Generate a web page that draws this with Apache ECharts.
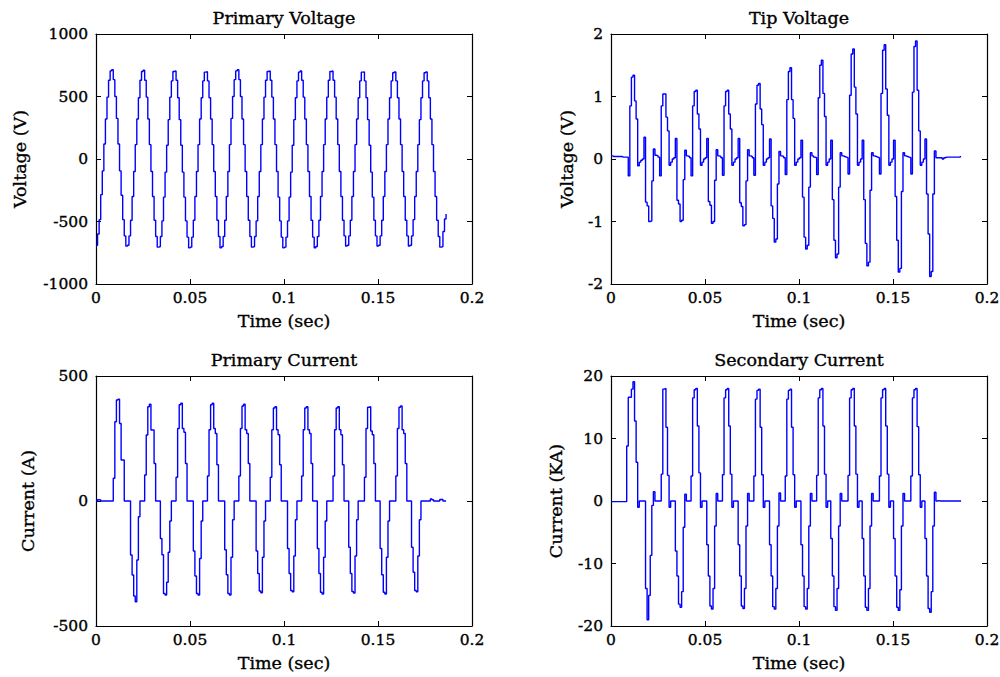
<!DOCTYPE html>
<html>
<head>
<meta charset="utf-8">
<title>Primary / Tip Voltage and Primary / Secondary Current</title>
<script src="https://cdn.jsdelivr.net/npm/echarts@6/dist/echarts.min.js"></script>
<style>
  html, body { margin: 0; padding: 0; background: #fff; }
  #chart { width: 1000px; height: 677px; }
</style>
</head>
<body>
<div id="chart"></div>
<script>
// Seconds between two recorded samples (sample-and-hold record)
const SAMPLE_DT = 0.000835;

// Tick values of each axis
const timeTicks = [0, 0.05, 0.1, 0.15, 0.2];
const primaryVoltageTicks = [-1000, -500, 0, 500, 1000];
const tipVoltageTicks = [-2, -1, 0, 1, 2];
const primaryCurrentTicks = [-500, 0, 500];
const secondaryCurrentTicks = [-20, -10, 0, 10, 20];

// Primary voltage (V), one row per mains cycle
const primaryVoltage = [
  -690, -600, -485, -285, -95, 120, 320, 495, 630, 705, 715, 635, 500, 325, 120, -95, -290, -485, -615, -697,
  -690, -615, -490, -300, -100, 115, 320, 490, 630, 700, 710, 630, 495, 320, 115, -100, -300, -490, -620, -705,
  -700, -620, -495, -305, -105, 110, 315, 495, 625, 700, 705, 630, 490, 315, 110, -105, -305, -495, -625, -711,
  -705, -625, -490, -300, -100, 115, 320, 490, 625, 695, 698, 625, 490, 320, 115, -100, -300, -490, -620, -711,
  -700, -620, -490, -300, -100, 115, 325, 500, 635, 705, 715, 635, 500, 320, 115, -100, -300, -490, -620, -705,
  -700, -620, -495, -300, -100, 115, 320, 495, 630, 700, 705, 630, 495, 320, 115, -100, -305, -495, -625, -711,
  -705, -625, -495, -305, -105, 110, 315, 490, 625, 695, 704, 630, 495, 320, 115, -100, -300, -490, -625, -711,
  -700, -620, -490, -300, -100, 115, 320, 495, 630, 700, 704, 630, 495, 320, 115, -100, -300, -490, -615, -697,
  -690, -615, -490, -300, -100, 115, 320, 490, 625, 695, 696, 625, 490, 315, 110, -105, -305, -490, -615, -697,
  -690, -615, -490, -300, -100, 115, 320, 490, 625, 690, 696, 625, 490, 320, 115, -100, -300, -490, -615, -697,
  -690, -615, -485, -300, -100, 115, 315, 490, 625, 690, 696, 625, 490, 320, 115, -100, -300, -490, -620, -705,
  -700, -580, -480, -440
];

// Tip voltage (V)
const tipVoltage = [
  0.05, 0.04, 0.04, 0.04, 0.04, 0.04, 0.04, 0.03, 0.03, 0.03, 0.03, -0.27, 0.85, 1.31, 1.34, 0.93, 0.64, -0.11, -0.05, -0.02,
  0.00, 0.35, -0.69, -0.75, -1.00, -0.99, -0.35, 0.16, 0.06, 0.05, 0.03, -0.27, 0.85, 1.04, 1.04, 0.67, 0.45, -0.10, -0.05, 0.00,
  0.02, 0.33, -0.66, -0.72, -1.00, -0.98, -0.33, 0.14, 0.05, 0.04, 0.02, -0.27, 0.85, 1.08, 1.10, 0.72, 0.48, -0.10, -0.05, 0.00,
  0.02, 0.33, -0.68, -0.74, -1.03, -1.00, -0.34, 0.15, 0.05, 0.04, 0.02, -0.26, 0.85, 1.08, 1.10, 0.72, 0.48, -0.10, -0.05, 0.00,
  0.02, 0.33, -0.70, -0.76, -1.07, -1.05, -0.35, 0.15, 0.05, 0.04, 0.02, -0.26, 0.88, 1.18, 1.21, 0.80, 0.55, -0.10, -0.05, 0.00,
  0.02, 0.32, -0.75, -0.95, -1.33, -1.28, -0.40, 0.12, 0.05, 0.04, 0.02, -0.25, 0.95, 1.40, 1.46, 0.95, 0.65, -0.10, -0.05, 0.00,
  0.02, 0.30, -0.61, -1.25, -1.44, -1.38, -0.45, 0.10, 0.05, 0.03, 0.02, -0.25, 0.98, 1.50, 1.58, 1.05, 0.68, -0.10, -0.05, 0.00,
  0.30, -0.65, -1.30, -1.58, -1.52, -0.45, 0.10, 0.05, 0.04, 0.03, 0.02, -0.24, 1.02, 1.68, 1.76, 1.15, 0.72, -0.10, -0.05, 0.00,
  0.30, -0.65, -1.35, -1.71, -1.65, -0.50, 0.10, 0.05, 0.04, 0.03, 0.02, -0.24, 1.05, 1.74, 1.83, 1.12, 0.70, -0.10, -0.05, 0.00,
  0.30, -0.60, -1.30, -1.81, -1.75, -0.52, 0.10, 0.05, 0.04, 0.03, 0.02, -0.24, 1.07, 1.80, 1.89, 1.10, 0.45, -0.10, -0.05, 0.00,
  0.32, -0.56, -1.20, -1.88, -1.80, -0.56, 0.13, 0.02, 0.02, 0.02, 0.02, 0.00, 0.02, 0.03, 0.03, 0.03, 0.03, 0.03, 0.03, 0.03,
  0.03, 0.03, 0.04, 0.03
];

// Primary current (A)
const primaryCurrent = [
  0, 5, 4, 0, 0, 0, 0, 0, 0, 0, 0, 91, 317, 404, 407, 310, 164, 164, 0, 0,
  0, 0, -216, -296, -380, -403, -236, -63, 0, 0, 0, 104, 264, 377, 387, 284, 284, 150, 0, 0,
  0, -150, -215, -370, -376, -325, -205, -80, 0, 0, 0, 95, 290, 385, 391, 290, 275, 150, 0, 0,
  0, 0, -200, -300, -370, -376, -230, -80, 0, 0, 0, 100, 285, 385, 391, 290, 270, 145, 0, 0,
  0, 0, -195, -295, -370, -376, -225, -75, 0, 0, 0, 100, 290, 380, 387, 285, 270, 150, 0, 0,
  0, 0, -200, -290, -360, -367, -225, -80, 0, 0, 0, 95, 285, 372, 377, 285, 265, 145, 0, 0,
  0, 0, -190, -290, -358, -363, -220, -75, 0, 0, 0, 100, 285, 372, 377, 285, 270, 150, 0, 0,
  0, -190, -290, -365, -372, -225, -80, 0, 0, 0, 0, 100, 285, 372, 377, 285, 265, 145, 0, 0,
  0, -185, -290, -362, -368, -220, -75, 0, 0, 0, 0, 95, 290, 375, 377, 280, 265, 150, 0, 0,
  0, -190, -295, -365, -372, -225, -80, 0, 0, 0, 0, 100, 290, 375, 380, 285, 270, 150, 0, 0,
  0, -185, -285, -358, -363, -220, -75, 0, 0, 0, 0, 0, 0, 8, 5, 0, 0, 0, 0, 6,
  6, 0, 0, 0
];

// Secondary current (KA)
const secondaryCurrent = [
  -0.1, -0.1, -0.1, -0.1, -0.1, -0.1, -0.1, -0.1, -0.1, -0.1, 8.8, 16.6, 16.6, 17.9, 19.1, 12.8, 6.2, -1.0, 0, 0,
  0, 0, -14, -19.0, -15.1, -8.7, -0.7, 1.5, 0, 0, 0, 0, 4.3, 17.9, 18.0, 11.8, 4.1, -1.0, 0, 0,
  0, -8, -12, -16.5, -17.0, -14.5, -4.2, 1.1, 0, 0, 0, 4.0, 16.5, 17.8, 18.0, 12.0, 4.5, -1.0, 0, 0,
  0, -7, -12, -16.8, -17.3, -14, -4, 1.2, 0, 0, 0, 4.2, 16.5, 17.8, 18.0, 12.0, 4.3, -1.0, 0, 0,
  0, -7, -12, -16.8, -17.2, -14, -4, 1.2, 0, 0, 0, 4.0, 16.3, 17.7, 17.9, 11.8, 4.2, -1.0, 0, 0,
  0, -7, -12, -16.9, -17.3, -14, -4, 1.3, 0, 0, 0, 4.0, 16.3, 17.7, 17.9, 11.8, 4.2, -1.0, 0, 0,
  0, -7, -12, -16.9, -17.3, -14, -4, 1.2, 0, 0, 0, 4.1, 16.5, 17.8, 18.0, 12.0, 4.3, -1.0, 0, 0,
  -6, -12, -16.9, -17.5, -14, -4, 1.2, 0, 0, 0, 0, 4.1, 16.5, 17.8, 18.0, 12.0, 4.3, -1.0, 0, 0,
  -6, -12, -17.0, -17.5, -14, -4, 1.2, 0, 0, 0, 0, 4.0, 16.5, 17.8, 18.0, 12.0, 4.3, -1.0, 0, 0,
  -6, -12, -17.0, -17.5, -14.2, -4, 1.2, 0, 0, 0, 0, 4.0, 16.5, 17.8, 18.0, 11.9, 4.2, -1.0, 0, 0,
  -6, -12, -17.2, -17.8, -14.5, -4, 1.4, 0, 0.05, 0, 0, 0, 0, 0, 0, 0, 0, 0, 0, 0,
  0, 0, 0, 0
];

const panels = [
  { title: 'Primary Voltage',   yName: 'Voltage (V)',  values: primaryVoltage,   yTicks: primaryVoltageTicks },
  { title: 'Tip Voltage',       yName: 'Voltage (V)',  values: tipVoltage,       yTicks: tipVoltageTicks },
  { title: 'Primary Current',   yName: 'Current (A)',  values: primaryCurrent,   yTicks: primaryCurrentTicks },
  { title: 'Secondary Current', yName: 'Current (KA)', values: secondaryCurrent, yTicks: secondaryCurrentTicks }
];

// Plot boxes and label anchors, in pixels
const PLOT_W = 376, PLOT_H = 250;
const boxes = [
  { left: 96,  top: 34,  yNameX: 20 },
  { left: 611, top: 34,  yNameX: 567 },
  { left: 96,  top: 376, yNameX: 28 },
  { left: 611, top: 376, yNameX: 556 }
];

const FONT = '"DejaVu Serif", serif';
const TICK_FONT_SIZE = 15.5;
const TITLE_FONT_SIZE = 17.5;
const INK = '#000';
// a hairline outline in the ink colour gives the labels a slightly heavier face
const TEXT_WEIGHT_STROKE = 0.35;

function stepOf(ticks) { return ticks[1] - ticks[0]; }

const grids = [], xAxes = [], yAxes = [], series = [], graphics = [];

panels.forEach((p, i) => {
  const b = boxes[i];
  grids.push({
    left: b.left, top: b.top, width: PLOT_W, height: PLOT_H,
    containLabel: false, outerBoundsMode: 'none', show: false
  });

  const common = {
    gridIndex: i, type: 'value',
    axisLine: { show: true, onZero: false, lineStyle: { color: INK, width: 1.2 } },
    axisTick: { show: true, inside: true, length: 5, lineStyle: { color: INK, width: 1 } },
    splitLine: { show: false }
  };
  const label = {
    color: INK, fontFamily: FONT, fontSize: TICK_FONT_SIZE,
    textBorderColor: INK, textBorderWidth: TEXT_WEIGHT_STROKE,
    showMinLabel: true, showMaxLabel: true,
    formatter: (v) => String(v)
  };

  const xr = { min: timeTicks[0], max: timeTicks[timeTicks.length - 1], interval: stepOf(timeTicks) };
  const yr = { min: p.yTicks[0], max: p.yTicks[p.yTicks.length - 1], interval: stepOf(p.yTicks) };

  xAxes.push(Object.assign({}, common, xr, { position: 'bottom', axisLabel: Object.assign({}, label, { margin: 6 }) }));
  xAxes.push(Object.assign({}, common, xr, { position: 'top', axisLabel: { show: false } }));
  yAxes.push(Object.assign({}, common, yr, { position: 'left', axisLabel: Object.assign({}, label, { margin: 8 }) }));
  yAxes.push(Object.assign({}, common, yr, { position: 'right', axisLabel: { show: false } }));

  series.push({
    type: 'line',
    xAxisIndex: 2 * i, yAxisIndex: 2 * i,
    step: 'end',
    showSymbol: false,
    symbol: 'none',
    silent: true,
    lineStyle: { color: '#0000ff', width: 1.4 },
    data: p.values.map((v, k) => [k * SAMPLE_DT, v])
  });

  const cx = b.left + PLOT_W / 2;
  const textStyle = (text) => ({
    text, fill: INK, font: TITLE_FONT_SIZE + 'px ' + FONT, align: 'center', verticalAlign: 'middle',
    stroke: INK, lineWidth: TEXT_WEIGHT_STROKE
  });
  graphics.push({ type: 'text', x: cx, y: b.top - 16, style: textStyle(p.title) });
  graphics.push({ type: 'text', x: cx, y: b.top + PLOT_H + 37, style: textStyle('Time (sec)') });
  graphics.push({ type: 'text', x: b.yNameX, y: b.top + PLOT_H / 2, rotation: Math.PI / 2, style: textStyle(p.yName) });
});

const chart = echarts.init(document.getElementById('chart'), null, { renderer: 'svg' });
chart.setOption({
  animation: false,
  backgroundColor: '#fff',
  grid: grids,
  xAxis: xAxes,
  yAxis: yAxes,
  series: series,
  graphic: { elements: graphics }
});
</script>
</body>
</html>
